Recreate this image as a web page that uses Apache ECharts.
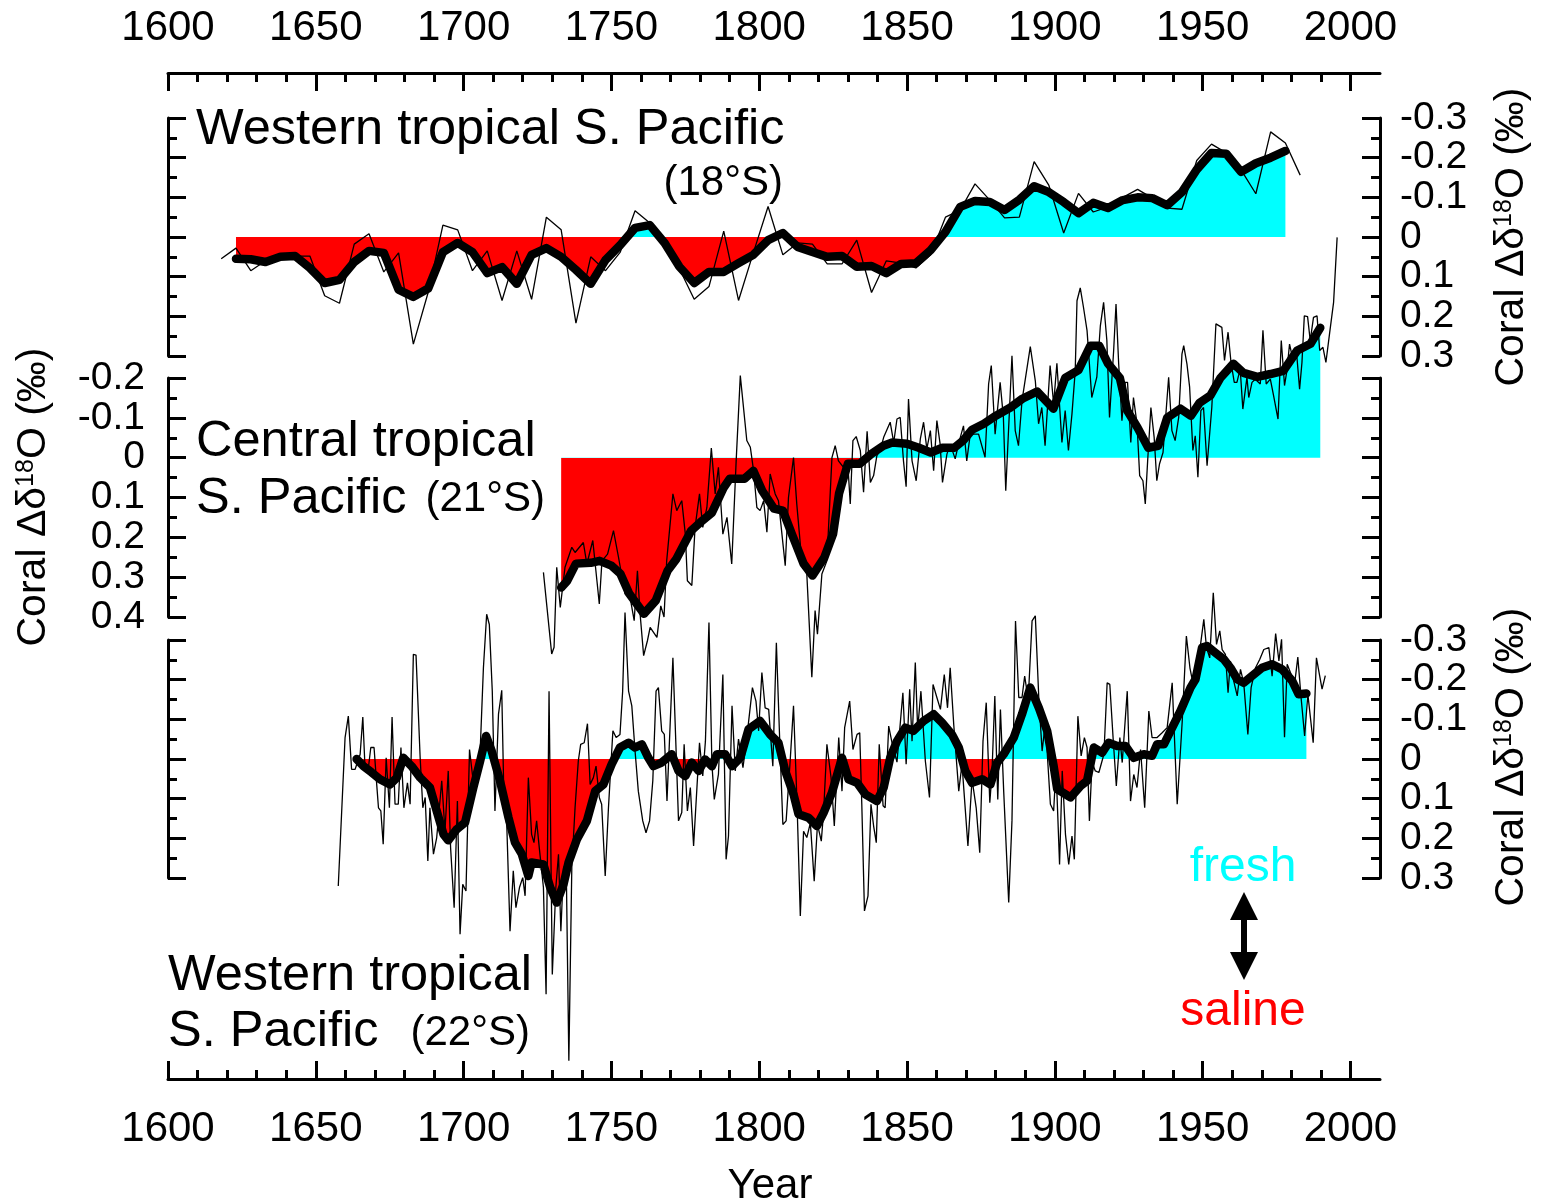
<!DOCTYPE html>
<html><head><meta charset="utf-8">
<script src="https://cdn.jsdelivr.net/npm/echarts@6/dist/echarts.min.js"></script>
<style>html,body{margin:0;padding:0;background:#fff}#c{width:1547px;height:1203px}</style>
</head><body><div id="c"></div>
<script>
// ---------- data ----------
const yearTicks = [1600,1650,1700,1750,1800,1850,1900,1950,2000];

// Panel 1: Western tropical S. Pacific (18°S), 5-yr resolution
const p1Years = [1618,1623,1628,1633,1638,1643,1648,1653,1658,1663,1668,1673,1678,1683,1688,1693,1698,1703,1708,1713,1718,1723,1728,1733,1738,1743,1748,1753,1758,1763,1768,1773,1778,1783,1788,1793,1798,1803,1808,1813,1818,1823,1828,1833,1838,1843,1848,1853,1858,1863,1868,1873,1878,1883,1888,1893,1898,1903,1908,1913,1918,1923,1928,1933,1938,1943,1948,1953,1958,1963,1968,1973,1978,1983];
const p1Raw = [0.055,0.028,0.085,0.06,0.05,0.048,0.048,0.148,0.167,0.018,-0.008,0.088,0.04,0.27,0.14,-0.03,-0.018,0.085,0.035,0.16,0.035,0.157,-0.05,-0.018,0.217,0.05,0.085,0.038,-0.066,-0.035,0.01,0.08,0.157,0.125,-0.015,0.16,0.04,-0.077,0.045,0.015,0.018,0.068,0.068,0.008,0.14,0.06,0.066,0.078,0.045,-0.05,-0.068,-0.134,-0.093,-0.048,-0.05,-0.19,-0.13,-0.01,-0.11,-0.063,-0.076,-0.1,-0.12,-0.098,-0.073,-0.07,-0.193,-0.234,-0.212,-0.169,-0.109,-0.265,-0.237,-0.156];
const p1SmoothYears = [1623,1628,1633,1638,1643,1648,1653,1658,1663,1668,1673,1678,1683,1688,1693,1698,1703,1708,1713,1718,1723,1728,1733,1738,1743,1748,1753,1758,1763,1768,1773,1778,1783,1788,1793,1798,1803,1808,1813,1818,1823,1828,1833,1838,1843,1848,1853,1858,1863,1868,1873,1878,1883,1888,1893,1898,1903,1908,1913,1918,1923,1928,1933,1938,1943,1948,1953,1958,1963,1968,1973,1978];
const p1Smooth = [0.055,0.056,0.063,0.05,0.048,0.078,0.116,0.108,0.063,0.035,0.04,0.133,0.151,0.13,0.038,0.015,0.038,0.091,0.076,0.118,0.045,0.028,0.05,0.083,0.118,0.058,0.02,-0.023,-0.03,0.015,0.075,0.116,0.088,0.088,0.066,0.045,0.008,-0.01,0.025,0.038,0.05,0.048,0.075,0.073,0.091,0.068,0.066,0.033,-0.013,-0.076,-0.091,-0.088,-0.068,-0.094,-0.128,-0.113,-0.088,-0.06,-0.086,-0.073,-0.093,-0.1,-0.098,-0.08,-0.113,-0.17,-0.212,-0.21,-0.164,-0.186,-0.2,-0.217];

// Panel 2: Central tropical S. Pacific (21°S) [year, value]
const p2Raw = [[1727.0,0.288],[1729.8,0.493],[1730.6,0.476],[1731.5,0.275],[1732.7,0.376],[1734.3,0.275],[1736.6,0.225],[1737.7,0.238],[1740.5,0.213],[1741.7,0.267],[1743.7,0.208],[1745.1,0.309],[1745.9,0.367],[1746.8,0.259],[1748.7,0.242],[1750.7,0.183],[1752.4,0.25],[1754.6,0.342],[1756.3,0.35],[1757.7,0.409],[1758.8,0.284],[1759.7,0.392],[1760.9,0.497],[1762.2,0.459],[1763.1,0.426],[1765.4,0.451],[1766.7,0.372],[1767.8,0.4],[1768.7,0.259],[1770.8,0.091],[1772.1,0.133],[1773.8,0.108],[1775.0,0.192],[1775.7,0.309],[1777.2,0.321],[1778.3,0.175],[1779.8,0.091],[1780.9,0.175],[1782.3,0.125],[1783.8,-0.024],[1785.1,0.091],[1786.2,0.024],[1787.7,0.192],[1789.1,0.15],[1790.7,0.267],[1792.2,0.008],[1793.6,-0.206],[1795.8,-0.043],[1797.0,-0.026],[1798.1,0.033],[1799.2,0.125],[1800.3,0.133],[1801.5,0.108],[1802.6,0.187],[1803.7,0.041],[1805.4,0.091],[1806.5,0.108],[1808.8,0.271],[1809.9,0.1],[1811.6,0.0],[1812.7,0.116],[1814.4,0.259],[1816.1,0.292],[1817.8,0.551],[1818.9,0.384],[1819.7,0.443],[1821.2,0.292],[1822.9,0.259],[1824.6,0.0],[1825.7,-0.03],[1826.8,0.008],[1828.5,0.024],[1829.9,0.008],[1830.8,0.116],[1831.7,-0.043],[1832.8,-0.053],[1834.2,-0.018],[1835.3,0.087],[1836.5,-0.066],[1837.6,0.062],[1838.7,0.045],[1839.8,-0.005],[1840.9,-0.018],[1842.1,-0.051],[1844.3,-0.089],[1845.5,-0.038],[1846.6,-0.097],[1847.7,-0.101],[1848.8,0.008],[1849.7,0.073],[1850.5,-0.147],[1851.7,0.008],[1853.1,0.058],[1854.5,-0.047],[1855.6,-0.089],[1856.7,-0.022],[1857.9,-0.068],[1859.0,0.033],[1860.1,-0.093],[1861.2,-0.034],[1862.0,0.062],[1863.5,-0.009],[1864.6,-0.034],[1866.3,0.003],[1867.4,-0.034],[1869.1,-0.08],[1870.2,0.008],[1871.4,-0.059],[1874.2,-0.059],[1876.4,-0.001],[1877.6,-0.185],[1878.5,-0.231],[1879.8,-0.059],[1881.5,-0.189],[1882.6,-0.101],[1883.4,0.083],[1885.5,-0.256],[1886.6,-0.068],[1887.7,-0.03],[1888.9,-0.143],[1891.7,-0.279],[1893.4,-0.193],[1894.5,-0.085],[1895.6,-0.126],[1896.7,-0.03],[1898.4,-0.231],[1899.6,-0.135],[1900.7,-0.237],[1902.4,-0.038],[1903.5,-0.118],[1904.6,-0.018],[1905.8,-0.11],[1906.9,-0.218],[1907.5,-0.394],[1908.6,-0.426],[1909.7,-0.377],[1910.9,-0.319],[1912.5,-0.151],[1914.2,-0.202],[1915.4,-0.331],[1916.5,-0.39],[1917.6,-0.294],[1918.5,-0.101],[1919.9,-0.269],[1920.7,-0.386],[1921.6,-0.235],[1922.7,-0.093],[1923.8,-0.189],[1924.6,-0.189],[1925.7,-0.038],[1926.6,-0.151],[1927.8,-0.085],[1928.7,0.045],[1929.8,0.058],[1930.6,0.116],[1931.4,0.008],[1932.5,-0.126],[1933.6,-0.051],[1934.5,0.058],[1935.4,0.016],[1936.6,-0.013],[1938.5,-0.202],[1939.6,-0.068],[1940.7,-0.043],[1941.9,-0.101],[1943.0,-0.26],[1943.6,-0.281],[1944.7,-0.235],[1945.6,-0.177],[1946.7,-0.018],[1947.5,-0.055],[1948.4,0.049],[1949.4,-0.118],[1950.3,-0.126],[1951.5,0.02],[1953.1,-0.126],[1954.5,-0.336],[1956.5,-0.327],[1957.4,-0.244],[1958.6,-0.315],[1959.6,-0.239],[1960.7,-0.189],[1961.6,-0.189],[1962.7,-0.223],[1963.6,-0.122],[1965.0,-0.202],[1965.6,-0.151],[1966.7,-0.189],[1967.8,-0.197],[1969.5,-0.185],[1970.4,-0.32],[1971.5,-0.185],[1972.9,-0.197],[1974.0,-0.156],[1975.5,-0.097],[1976.6,-0.294],[1977.7,-0.181],[1978.5,-0.218],[1979.4,-0.285],[1980.6,-0.244],[1981.9,-0.252],[1982.8,-0.172],[1983.6,-0.239],[1984.4,-0.356],[1985.5,-0.354],[1986.4,-0.294],[1987.5,-0.352],[1988.7,-0.356],[1989.6,-0.269],[1990.7,-0.277],[1991.7,-0.239],[1993.0,-0.315],[1994.3,-0.39],[1995.5,-0.553]];
const p2Smooth = [[1733,0.326],[1735,0.31],[1738,0.266],[1743,0.264],[1746,0.259],[1750,0.271],[1753,0.291],[1756,0.341],[1761,0.392],[1765,0.359],[1769,0.284],[1772,0.254],[1777,0.183],[1780,0.163],[1784,0.138],[1788,0.075],[1790,0.053],[1795,0.053],[1798,0.033],[1801,0.083],[1805,0.128],[1808,0.133],[1811,0.191],[1815,0.266],[1818,0.296],[1822,0.251],[1825,0.191],[1827,0.09],[1830,0.015],[1834,0.015],[1838,-0.01],[1842,-0.03],[1845,-0.038],[1850,-0.035],[1854,-0.025],[1858,-0.013],[1862,-0.025],[1866,-0.025],[1869,-0.043],[1872,-0.07],[1876,-0.085],[1880,-0.105],[1885,-0.126],[1889,-0.148],[1894,-0.166],[1899.5,-0.123],[1903.5,-0.2],[1908,-0.22],[1912,-0.281],[1915,-0.281],[1918,-0.236],[1922,-0.2],[1924.5,-0.118],[1928,-0.075],[1931.6,-0.025],[1935,-0.03],[1938,-0.1],[1942.5,-0.123],[1946,-0.105],[1949,-0.138],[1952.6,-0.156],[1956,-0.2],[1960.4,-0.236],[1963.8,-0.213],[1968.5,-0.203],[1972.9,-0.21],[1977.3,-0.218],[1982,-0.269],[1986.5,-0.286],[1989.8,-0.326]];

// Panel 3: Western tropical S. Pacific (22°S) [year, value]
const p3Raw = [[1657.6,0.32],[1659.9,-0.054],[1661.0,-0.108],[1662.1,0.026],[1663.3,0.026],[1665.0,-0.012],[1665.9,-0.106],[1666.6,0.013],[1667.8,0.022],[1668.6,-0.029],[1669.7,-0.029],[1670.6,0.064],[1671.2,0.123],[1672.0,0.131],[1672.8,0.215],[1673.8,-0.003],[1674.9,0.123],[1675.8,-0.106],[1676.8,0.114],[1677.9,0.114],[1678.8,-0.029],[1679.8,0.123],[1681.0,0.06],[1681.9,0.114],[1683.0,-0.264],[1683.9,-0.262],[1685.3,-0.003],[1686.2,0.123],[1687.0,0.097],[1687.9,0.257],[1688.6,0.123],[1689.8,0.24],[1690.9,0.198],[1692.6,0.055],[1693.7,0.182],[1694.8,0.03],[1695.6,0.224],[1696.8,0.375],[1697.9,0.106],[1698.8,0.442],[1699.7,0.316],[1700.8,0.333],[1702.0,-0.024],[1703.1,0.047],[1704.4,0.013],[1705.6,-0.02],[1706.7,-0.23],[1707.8,-0.365],[1708.7,-0.339],[1709.7,-0.171],[1710.6,0.131],[1711.8,-0.113],[1712.9,-0.173],[1713.7,0.123],[1714.6,0.165],[1715.7,0.434],[1716.8,0.282],[1717.7,0.375],[1718.9,0.324],[1720.0,0.299],[1720.8,0.345],[1721.9,0.047],[1723.0,0.19],[1723.8,0.211],[1724.7,0.156],[1725.6,0.224],[1727.0,0.324],[1727.9,0.593],[1728.9,-0.171],[1730.0,0.543],[1731.2,0.324],[1732.1,0.24],[1732.9,0.434],[1733.8,0.274],[1734.7,0.261],[1735.6,0.761],[1736.6,0.274],[1737.7,0.123],[1738.8,0.005],[1739.6,-0.037],[1740.8,-0.041],[1741.9,-0.089],[1742.8,0.064],[1743.9,0.047],[1744.8,0.018],[1745.9,0.097],[1746.7,0.114],[1747.9,0.295],[1749.0,0.123],[1750.5,-0.071],[1751.6,-0.054],[1752.9,-0.062],[1753.8,-0.171],[1754.6,-0.369],[1755.8,-0.171],[1756.9,-0.134],[1758.0,-0.02],[1759.1,0.081],[1760.6,0.156],[1761.7,0.186],[1762.9,0.156],[1764.0,0.055],[1765.1,-0.171],[1765.9,-0.18],[1767.0,-0.071],[1767.9,-0.062],[1768.8,0.106],[1770.8,-0.255],[1772.7,0.156],[1773.8,0.135],[1774.6,-0.037],[1775.7,0.131],[1776.7,0.072],[1777.8,0.219],[1779.8,-0.041],[1780.9,0.043],[1781.8,-0.045],[1783.0,-0.344],[1784.0,0.013],[1784.8,0.102],[1786.2,0.039],[1787.7,-0.213],[1788.8,0.253],[1789.6,0.194],[1790.8,-0.134],[1791.9,0.03],[1793.0,-0.05],[1794.5,0.022],[1795.8,-0.054],[1797.7,-0.18],[1798.9,-0.146],[1799.8,-0.071],[1800.9,-0.218],[1802.0,-0.129],[1803.2,-0.125],[1804.6,0.018],[1805.8,-0.293],[1806.9,-0.054],[1808.0,0.165],[1809.1,0.156],[1810.5,0.001],[1811.6,-0.134],[1812.8,0.114],[1813.9,0.396],[1815.0,0.182],[1816.1,0.198],[1817.3,0.161],[1818.6,0.308],[1819.7,0.165],[1821.0,0.207],[1821.8,0.131],[1822.9,-0.037],[1824.3,0.047],[1825.4,0.169],[1826.9,-0.054],[1828.0,0.081],[1828.9,-0.079],[1830.6,-0.146],[1831.7,-0.024],[1833.1,-0.062],[1834.0,-0.066],[1834.7,0.114],[1835.6,0.383],[1836.8,0.345],[1837.8,0.114],[1838.7,0.169],[1839.6,0.211],[1840.6,-0.037],[1841.9,0.118],[1842.6,0.123],[1843.8,-0.083],[1844.9,-0.042],[1846.6,0.008],[1848.6,-0.167],[1849.7,0.013],[1850.9,-0.176],[1851.7,-0.045],[1852.8,-0.243],[1853.6,-0.075],[1854.7,-0.171],[1856.2,0.005],[1857.6,0.097],[1858.8,-0.188],[1860.1,-0.155],[1861.3,-0.125],[1862.6,-0.213],[1863.7,-0.129],[1864.6,-0.23],[1865.8,-0.087],[1867.5,0.081],[1868.6,0.013],[1870.6,0.219],[1872.0,0.051],[1873.4,0.123],[1874.6,0.236],[1875.7,-0.045],[1876.8,-0.142],[1878.0,0.11],[1878.7,0.04],[1879.7,-0.159],[1880.7,0.102],[1881.6,-0.125],[1882.7,0.081],[1884.4,0.362],[1885.5,0.156],[1886.7,-0.348],[1887.8,-0.155],[1888.9,-0.155],[1889.8,-0.209],[1891.0,-0.15],[1892.3,-0.348],[1893.4,-0.361],[1894.6,-0.15],[1895.7,-0.02],[1896.8,-0.092],[1898.5,0.114],[1899.6,0.131],[1900.4,0.022],[1901.6,0.266],[1902.5,0.03],[1903.6,0.19],[1904.7,0.266],[1905.8,0.194],[1906.6,0.253],[1907.8,-0.108],[1908.9,-0.008],[1910.0,-0.054],[1910.9,-0.029],[1911.7,0.156],[1912.6,0.009],[1913.7,0.03],[1914.9,0.034],[1916.6,-0.012],[1917.7,-0.192],[1918.6,-0.188],[1919.7,-0.054],[1920.8,0.068],[1922.0,-0.054],[1922.8,0.009],[1924.5,-0.171],[1925.6,0.106],[1926.7,0.039],[1927.8,0.072],[1929.0,-0.024],[1930.4,0.123],[1931.8,-0.121],[1932.9,-0.054],[1934.6,-0.054],[1936.3,-0.066],[1938.0,-0.079],[1939.7,-0.192],[1941.4,0.114],[1943.1,-0.096],[1944.5,-0.31],[1945.7,-0.23],[1947.0,-0.18],[1948.7,-0.255],[1950.4,-0.352],[1951.3,-0.281],[1952.4,-0.255],[1953.6,-0.419],[1954.7,-0.289],[1955.8,-0.323],[1956.6,-0.276],[1957.7,-0.264],[1958.6,-0.167],[1959.4,-0.247],[1960.5,-0.197],[1961.7,-0.159],[1962.8,-0.226],[1963.9,-0.192],[1965.3,-0.062],[1966.4,-0.18],[1967.9,-0.23],[1969.3,-0.251],[1970.7,-0.276],[1972.4,-0.281],[1973.5,-0.209],[1974.7,-0.316],[1975.8,-0.247],[1976.7,-0.302],[1977.7,-0.055],[1978.6,-0.239],[1979.7,-0.218],[1981.1,-0.188],[1982.2,-0.257],[1983.3,-0.155],[1984.5,-0.058],[1985.6,-0.163],[1987.4,-0.041],[1988.5,-0.255],[1990.4,-0.176],[1991.5,-0.21]];
const p3Smooth = [[1663.8,0.0],[1666.1,0.018],[1668.9,0.034],[1671.7,0.051],[1675.1,0.064],[1677.4,0.047],[1679.6,-0.003],[1682.4,0.018],[1685.3,0.047],[1688.6,0.072],[1690.9,0.131],[1693.2,0.19],[1694.8,0.205],[1697.7,0.177],[1700.5,0.16],[1703.3,0.072],[1705.6,0.005],[1707.6,-0.058],[1709.5,-0.02],[1712.3,0.055],[1715.2,0.148],[1717.4,0.211],[1719.7,0.24],[1721.9,0.295],[1723.0,0.261],[1727.0,0.266],[1729.3,0.324],[1731.5,0.362],[1733.8,0.316],[1735.5,0.261],[1738.3,0.203],[1741.7,0.156],[1744.5,0.081],[1747.3,0.064],[1750.1,0.013],[1752.9,-0.029],[1755.8,-0.041],[1758.0,-0.029],[1760.3,-0.037],[1762.5,-0.003],[1764.2,0.018],[1767.0,0.009],[1770.4,-0.012],[1772.7,0.03],[1775.0,0.043],[1777.2,0.009],[1779.5,0.03],[1781.7,0.001],[1784.0,0.018],[1785.7,-0.012],[1788.5,-0.012],[1790.8,0.018],[1793.6,-0.003],[1796.4,-0.075],[1800.3,-0.096],[1803.7,-0.062],[1806.5,-0.041],[1808.8,0.03],[1811.6,0.089],[1813.3,0.139],[1816.7,0.148],[1819.5,0.169],[1821.8,0.135],[1824.6,0.085],[1828.0,-0.003],[1830.2,0.051],[1833.1,0.06],[1835.9,0.089],[1839.8,0.106],[1842.1,0.072],[1844.3,-0.003],[1846.6,-0.045],[1849.4,-0.079],[1852.2,-0.071],[1855.6,-0.096],[1859.0,-0.113],[1861.8,-0.092],[1865.2,-0.062],[1867.5,-0.029],[1869.7,0.03],[1872.0,0.06],[1875.4,0.051],[1878.2,0.064],[1880.5,0.009],[1882.7,-0.012],[1886.1,-0.054],[1888.9,-0.113],[1891.7,-0.18],[1894.6,-0.129],[1897.4,-0.071],[1899.6,0.018],[1900.8,0.076],[1905.3,0.097],[1908.7,0.068],[1910.9,0.055],[1913.2,-0.029],[1916.0,-0.016],[1918.2,-0.041],[1921.1,-0.033],[1923.9,-0.033],[1926.7,-0.003],[1930.1,-0.012],[1932.9,-0.008],[1934.6,-0.037],[1936.9,-0.037],[1939.7,-0.079],[1942.5,-0.121],[1945.9,-0.18],[1947.6,-0.201],[1949.8,-0.281],[1951.5,-0.285],[1954.3,-0.268],[1957.2,-0.251],[1959.4,-0.23],[1961.7,-0.201],[1963.9,-0.192],[1967.3,-0.213],[1970.1,-0.23],[1973.5,-0.239],[1976.9,-0.226],[1980.3,-0.197],[1982.5,-0.163],[1985.1,-0.165]];

const p1Range = [-0.3, 0.3], p2Range = [-0.2, 0.4], p3Range = [-0.3, 0.3];

// ---------- chart ----------
const FONT = '"Liberation Sans", Arial, Helvetica, sans-serif';
const BLACK = '#000';
const chart = echarts.init(document.getElementById('c'), null, {renderer: 'canvas'});

const p1Pairs = p1Years.map((y, i) => [y, p1Raw[i]]);
const p1SmoothPairs = p1SmoothYears.map((y, i) => [y, p1Smooth[i]]);

const grids = [
  {left: 168, right: 167, top: 118, height: 238},
  {left: 168, right: 167, top: 378, height: 239},
  {left: 168, right: 167, top: 640, height: 238}
];

function xAxisCfg(g, show, position, offset, margin) {
  return {
    gridIndex: g, type: 'value', min: 1600, max: 2010, interval: 50, show: show,
    position: position, offset: offset,
    axisLine: {show: true, onZero: false, lineStyle: {color: BLACK, width: 3}},
    axisTick: {show: true, inside: true, length: 18, customValues: yearTicks, lineStyle: {color: BLACK, width: 3}},
    minorTick: {show: true, splitNumber: 5, length: 9, lineStyle: {color: BLACK, width: 3}},
    axisLabel: {show: true, customValues: yearTicks, fontSize: 42, color: BLACK, fontFamily: FONT, margin: margin,
      formatter: v => String(v)},
    splitLine: {show: false}, minorSplitLine: {show: false}
  };
}
function yAxisCfg(g, pos, range, showLabel, margin) {
  return {
    gridIndex: g, type: 'value', position: pos, min: range[0], max: range[1], interval: 0.1, inverse: true,
    axisLine: {show: true, onZero: false, lineStyle: {color: BLACK, width: 3}},
    axisTick: {show: true, inside: true, length: 18, lineStyle: {color: BLACK, width: 3}},
    minorTick: {show: true, splitNumber: 2, length: 9, lineStyle: {color: BLACK, width: 3}},
    axisLabel: {show: showLabel, fontSize: 39, color: BLACK, fontFamily: FONT, margin: margin,
      formatter: v => (Math.abs(v) < 1e-9 ? '0' : String(Math.round(v * 10) / 10))},
    splitLine: {show: false}, minorSplitLine: {show: false}
  };
}

function panelSeries(g, raw, smooth) {
  return [
    {type: 'line', xAxisIndex: g, yAxisIndex: 2 * g, data: smooth, symbol: 'none', silent: true, clip: false,
      lineStyle: {width: 0, opacity: 0}, areaStyle: {opacity: 1}, z: 1},
    {type: 'line', xAxisIndex: g, yAxisIndex: 2 * g, data: raw, symbol: 'none', silent: true, clip: false,
      itemStyle: {color: BLACK}, lineStyle: {width: 1.3, color: BLACK}, z: 2},
    {type: 'line', xAxisIndex: g, yAxisIndex: 2 * g, data: smooth, symbol: 'none', silent: true, clip: false,
      itemStyle: {color: BLACK}, lineStyle: {width: 8.5, color: BLACK, cap: 'round', join: 'round'}, z: 3}
  ];
}

function vText(x, y) {
  return {
    type: 'text', x: x, y: y, rotation: Math.PI / 2, silent: true,
    style: {
      text: '{a|Coral Δδ}{b|18}{a|O (‰)}',
      align: 'center', verticalAlign: 'middle',
      rich: {
        a: {fontSize: 41, fontFamily: FONT, fill: BLACK},
        b: {fontSize: 25, fontFamily: FONT, fill: BLACK, verticalAlign: 'top', lineHeight: 40}
      }
    }
  };
}
function txt(x, y, s, size, color, align) {
  return {type: 'text', x: x, y: y, silent: true,
    style: {text: s, fontSize: size, fontFamily: FONT, fill: color || BLACK, align: align || 'left', verticalAlign: 'middle'}};
}

const option = {
  animation: false,
  backgroundColor: '#fff',
  grid: grids,
  xAxis: [
    xAxisCfg(0, true, 'top', 45, 24),
    xAxisCfg(1, false, 'bottom', 0, 8),
    xAxisCfg(2, true, 'bottom', 201, 29)
  ],
  yAxis: [
    yAxisCfg(0, 'left', p1Range, false, 20),
    yAxisCfg(0, 'right', p1Range, true, 20),
    yAxisCfg(1, 'left', p2Range, true, 23),
    yAxisCfg(1, 'right', p2Range, false, 20),
    yAxisCfg(2, 'left', p3Range, false, 20),
    yAxisCfg(2, 'right', p3Range, true, 20)
  ],
  visualMap: [{
    type: 'piecewise', show: false, seriesIndex: [0, 3, 6], dimension: 1,
    pieces: [{gte: -1, lt: 0, color: '#00ffff'}, {gte: 0, lte: 1, color: '#ff0000'}],
    outOfRange: {color: '#ff0000'}
  }],
  series: [].concat(
    panelSeries(0, p1Pairs, p1SmoothPairs),
    panelSeries(1, p2Raw, p2Smooth),
    panelSeries(2, p3Raw, p3Smooth)
  ),
  graphic: [
    txt(196, 130, 'Western tropical S. Pacific', 50.5),
    txt(783, 183, '(18°S)', 42, BLACK, 'right'),
    txt(196, 442, 'Central tropical', 50.5),
    txt(196, 499, 'S. Pacific', 50.5),
    txt(545, 499, '(21°S)', 42, BLACK, 'right'),
    txt(168, 976, 'Western tropical', 50.5),
    txt(168, 1032, 'S. Pacific', 50.5),
    txt(530, 1033, '(22°S)', 42, BLACK, 'right'),
    txt(1243, 868, 'fresh', 48, '#00ffff', 'center'),
    txt(1243, 1012, 'saline', 48, '#ff0000', 'center'),
    txt(770, 1186, 'Year', 42, BLACK, 'center'),
    vText(1512, 237),
    vText(34, 497),
    vText(1512, 757),
    {type: 'line', silent: true, shape: {x1: 1244, y1: 915, x2: 1244, y2: 957}, style: {stroke: BLACK, lineWidth: 6}},
    {type: 'polygon', silent: true, shape: {points: [[1244, 892], [1230, 920], [1258, 920]]}, style: {fill: BLACK}},
    {type: 'polygon', silent: true, shape: {points: [[1244, 980], [1230, 952], [1258, 952]]}, style: {fill: BLACK}}
  ]
};
chart.setOption(option);
</script></body></html>
